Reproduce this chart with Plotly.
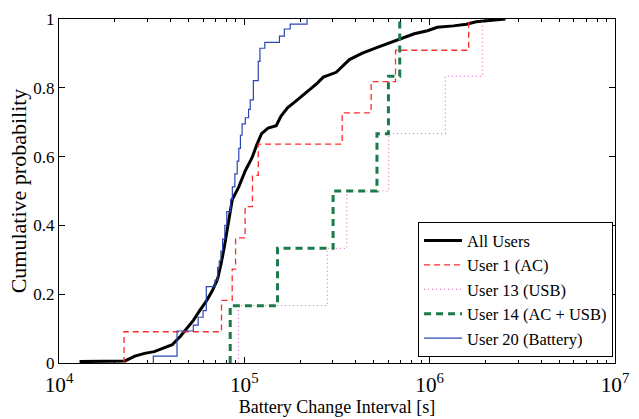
import plotly.graph_objects as go

# All users (empirical CDF sampled)
all_x = [12910, 22700, 25650, 28970, 32660, 36900, 40830, 45080, 48870, 53090, 57410,
         62370, 67610, 71780, 74820, 77800, 86100, 93330, 101200, 109900, 116700, 123900,
         134300, 148600, 157800, 171000, 193200, 217800, 246000, 266700, 313300, 369000,
         433500, 530900, 598400, 703100, 826000, 972800, 1099000, 1343000, 1578000,
         1782000, 2178000, 2564000]
all_y = [0.004, 0.006, 0.02, 0.028, 0.033, 0.044, 0.053, 0.077, 0.101, 0.124, 0.152,
         0.18, 0.213, 0.245, 0.287, 0.334, 0.475, 0.512, 0.559, 0.596, 0.634, 0.667,
         0.683, 0.690, 0.718, 0.742, 0.765, 0.788, 0.812, 0.831, 0.845, 0.882,
         0.901, 0.919, 0.929, 0.943, 0.957, 0.966, 0.976, 0.980, 0.985,
         0.992, 0.997, 1.0]

# User 1 (AC): 11 samples
u1_x = [22440, 75300, 86000, 89700, 101000, 110600, 118900, 337200, 483300, 654400, 1624000]
# User 13 (USB): 6 samples
u13_x = [92980, 280200, 357000, 601000, 1214000, 1924000]
# User 14 (AC + USB): 6 samples
u14_x = [83900, 151000, 301200, 519600, 599000, 689500]
# User 20 (Battery): step locations and levels
u20_x = [32280, 43330, 53050, 56370, 59890, 62330, 69520, 71840, 73240, 74770, 76320,
         78480, 80410, 84400, 86170, 88910, 91530, 93330, 95250, 97250, 101200, 105400,
         107600, 111900, 118900, 121400, 129000, 154700, 164400, 176800, 218000]
u20_y = [0.02, 0.093, 0.11, 0.133, 0.152, 0.222, 0.241, 0.278, 0.297, 0.325, 0.36,
         0.40, 0.44, 0.475, 0.512, 0.55, 0.587, 0.624, 0.662, 0.695, 0.713, 0.737,
         0.765, 0.821, 0.877, 0.915, 0.932, 0.95, 0.971, 0.985, 1.0]

def ecdf_steps(xs, levels=None):
    n = len(xs)
    if levels is None:
        levels = [(i + 1) / n for i in range(n)]
    return [xs[0]] + list(xs), [0.0] + list(levels)

FONT = "Liberation Serif, Times New Roman, Times, serif"
fig = go.Figure()

fig.add_trace(go.Scatter(x=all_x, y=all_y, mode="lines", name="All Users",
                         line=dict(color="black", width=3)))
x, y = ecdf_steps(u1_x)
fig.add_trace(go.Scatter(x=x, y=y, mode="lines", name="User 1 (AC)", line_shape="hv",
                         line=dict(color="#ff2a2a", width=1.3, dash="6px,4px")))
x, y = ecdf_steps(u13_x)
fig.add_trace(go.Scatter(x=x, y=y, mode="lines", name="User 13 (USB)", line_shape="hv",
                         line=dict(color="#e070c0", width=1.2, dash="1px,3px")))
x, y = ecdf_steps(u14_x)
fig.add_trace(go.Scatter(x=x, y=y, mode="lines", name="User 14 (AC + USB)", line_shape="hv",
                         line=dict(color="#1a7a4a", width=3, dash="7px,5px")))
x, y = ecdf_steps(u20_x, u20_y)
fig.add_trace(go.Scatter(x=x, y=y, mode="lines", name="User 20 (Battery)", line_shape="hv",
                         line=dict(color="#2c46b0", width=1.2)))

fig.update_layout(
    width=639, height=419,
    margin=dict(l=59, r=10, t=13, b=50),
    paper_bgcolor="white", plot_bgcolor="white",
    font=dict(family=FONT, size=17, color="black"),
    legend=dict(x=0.9965, y=0.017, xanchor="right", yanchor="bottom",
                bordercolor="black", borderwidth=1, bgcolor="white",
                font=dict(family=FONT, size=16.5), tracegroupgap=0,
                itemwidth=38, entrywidth=205),
)
fig.update_xaxes(type="log", range=[4, 7], dtick=1, exponentformat="power",
                 showgrid=False, zeroline=False,
                 showline=True, linecolor="black", linewidth=1, mirror="ticks",
                 ticks="inside", ticklen=6, tickcolor="black",
                 ticklabeloverflow="allow", ticklabelstandoff=3,
                 minor=dict(ticks="inside", ticklen=3, dtick="D1", tickcolor="black", showgrid=False),
                 tickfont=dict(family=FONT, size=17),
                 title=dict(text="Battery Change Interval [s]", font=dict(family=FONT, size=18), standoff=0))
fig.update_yaxes(range=[0, 1], dtick=0.2, showgrid=False, zeroline=False,
                 showline=True, linecolor="black", linewidth=1, mirror="ticks",
                 ticks="inside", ticklen=6, tickcolor="black",
                 tickfont=dict(family=FONT, size=17),
                 title=dict(text="Cumulative probability", font=dict(family=FONT, size=22), standoff=0))

fig.write_html("out.html")
